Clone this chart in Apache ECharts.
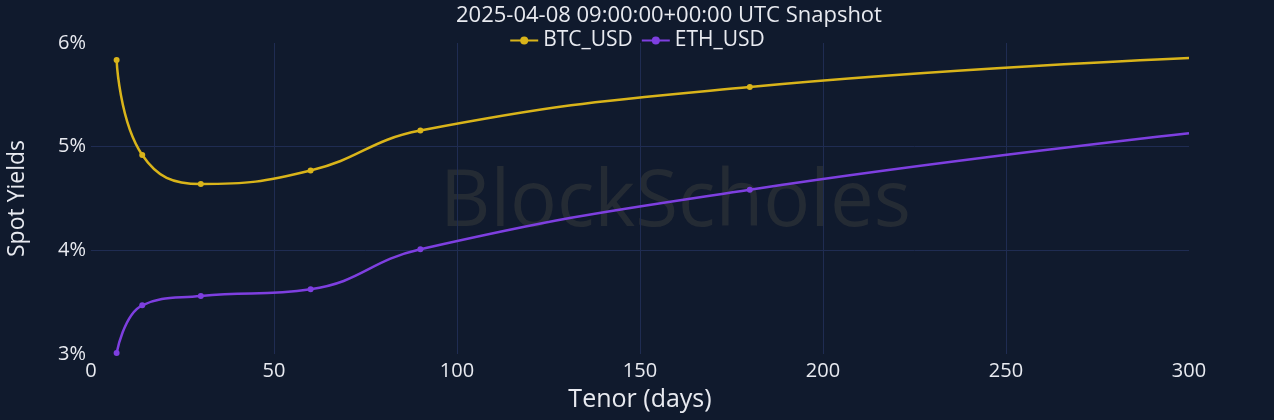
<!DOCTYPE html>
<html>
<head>
<meta charset="utf-8">
<script src="https://cdn.jsdelivr.net/npm/echarts@6/dist/echarts.min.js"></script>
<style>
html,body{margin:0;padding:0;background:#101a2d;}
#c{width:1274px;height:420px;}
</style>
</head>
<body>
<div id="c"></div>
<script>
var titleText = '2025-04-08 09:00:00+00:00 UTC Snapshot';
var tenors = [7, 14, 30, 60, 90, 180, 300];
var btcYields = [5.835, 4.92, 4.64, 4.77, 5.155, 5.575, 5.855];
var ethYields = [3.01, 3.47, 3.56, 3.625, 4.01, 4.585, 5.13];
var markerShown = [true, true, true, true, true, true, false];
var seriesNames = ['BTC_USD', 'ETH_USD'];
var xTicks = [0, 50, 100, 150, 200, 250, 300];
var yTicks = [3, 4, 5, 6];

function build(vals) {
  return tenors.map(function (t, i) {
    var d = { value: [t, vals[i]] };
    if (!markerShown[i]) d.symbolSize = 0;
    return d;
  });
}

var chart = echarts.init(document.getElementById('c'));
var font = '"Open Sans", "Noto Sans", sans-serif';
var txt = '#e8eaf0';
chart.setOption({
  backgroundColor: '#101a2d',
  textStyle: { fontFamily: font },
  title: {
    text: titleText, left: 451, top: 0,
    textStyle: { color: txt, fontSize: 22, fontWeight: 'normal', fontFamily: font }
  },
  legend: {
    top: 25, left: 'center', itemWidth: 28, itemHeight: 10, itemGap: 8,
    textStyle: { color: txt, fontSize: 21, fontFamily: font },
    data: seriesNames
  },
  graphic: [{
    type: 'text', left: 440, top: 165, silent: true, z: 0,
    style: { text: 'BlockScholes', fill: 'rgba(72,70,66,0.38)', fontSize: 78, fontFamily: font }
  }],
  grid: { left: 91, right: 85, top: 43, bottom: 66, containLabel: false, outerBoundsMode: 'none' },
  xAxis: {
    type: 'value', min: xTicks[0], max: xTicks[xTicks.length - 1], interval: 50,
    name: 'Tenor (days)', nameLocation: 'middle', nameGap: 33,
    nameTextStyle: { color: txt, fontSize: 25, fontFamily: font },
    axisLine: { show: false }, axisTick: { show: false },
    axisLabel: { color: txt, fontSize: 20, margin: 7, fontFamily: font },
    splitLine: { show: true, showMinLine: false, showMaxLine: false, lineStyle: { color: '#1f2c52', width: 1 } }
  },
  yAxis: {
    type: 'value', min: yTicks[0], max: yTicks[yTicks.length - 1], interval: 1,
    name: 'Spot Yields', nameLocation: 'middle', nameGap: 62, nameRotate: 90,
    nameTextStyle: { color: txt, fontSize: 23, fontFamily: font },
    axisLine: { show: false }, axisTick: { show: false },
    axisLabel: { color: txt, fontSize: 20, margin: 5, formatter: '{value}%', fontFamily: font },
    splitLine: { show: true, showMinLine: false, showMaxLine: false, lineStyle: { color: '#1f2c52', width: 1 } }
  },
  series: [
    {
      name: seriesNames[0], type: 'line', smooth: 0.45, smoothConstraint: false,
      data: build(btcYields),
      symbol: 'circle', symbolSize: 6,
      itemStyle: { color: '#d9b41a' },
      lineStyle: { color: '#d9b41a', width: 2.5 }
    },
    {
      name: seriesNames[1], type: 'line', smooth: 0.45, smoothConstraint: false,
      data: build(ethYields),
      symbol: 'circle', symbolSize: 6,
      itemStyle: { color: '#7e3fe0' },
      lineStyle: { color: '#7e3fe0', width: 2.5 }
    }
  ]
});
</script>
</body>
</html>
